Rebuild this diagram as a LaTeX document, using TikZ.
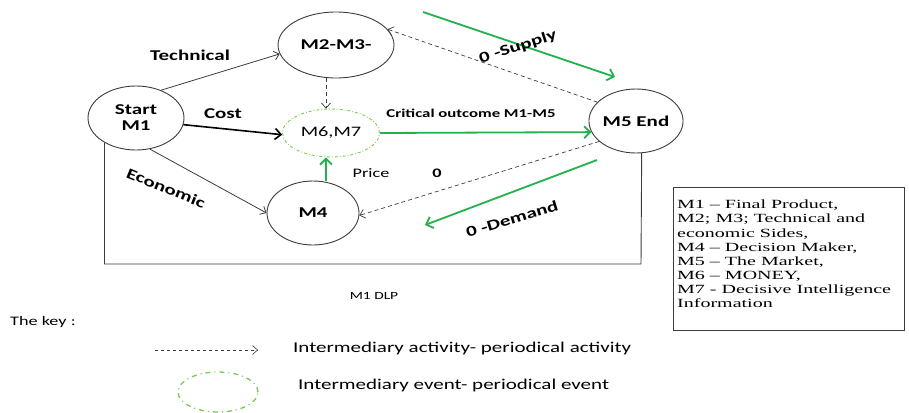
\documentclass[tikz,border=0pt]{standalone}
\usepackage{fontspec}
\setmainfont{Carlito}[FakeStretch=1.4]
\newfontfamily\keyserif{Liberation Serif}[FakeStretch=1.6,Ligatures=TeX]
\usetikzlibrary{arrows.meta,shapes.geometric}
\definecolor{flowgreen}{RGB}{34,177,76}
\definecolor{eventgreen}{RGB}{120,205,80}
\definecolor{linegray}{RGB}{60,60,60}

\begin{document}
\begin{tikzpicture}[x=1pt,y=-1pt,
  state/.style={draw=linegray, line width=0.9pt, ellipse, inner sep=0pt,
    font=\fontsize{15}{16}\selectfont\bfseries, align=center},
  eventnode/.style={draw=eventgreen, line width=0.9pt, ellipse, inner sep=0pt,
    dash pattern=on 3pt off 2pt on 0.8pt off 2pt},
  thinarrow/.style={draw=linegray, line width=0.8pt, -{Straight Barb[length=5pt,width=9pt]}},
  costarrow/.style={draw=black, line width=1.6pt, -{Straight Barb[length=6pt,width=11pt]}},
  greenarrow/.style={draw=flowgreen, line width=1.8pt, -{Straight Barb[length=6pt,width=12pt]}},
  dasharrow/.style={draw=linegray, line width=0.7pt, dash pattern=on 4pt off 3pt,
    -{Straight Barb[length=5pt,width=9pt]}},
  framebar/.style={draw=linegray, line width=0.9pt},
  lbl/.style={font=\fontsize{15}{16}\selectfont\bfseries, inner sep=1pt},
  plainlbl/.style={font=\fontsize{13}{15}\selectfont, inner sep=1pt},
  keylbl/.style={font=\fontsize{15}{17}\selectfont, inner sep=0pt, anchor=west}
]
\useasboundingbox (0,0) rectangle (909,412);

% states of the process
\node[state, minimum width=96, minimum height=64] (m1) at (136,118) {Start\\M1};
\node[state, minimum width=116, minimum height=66] (m2) at (336,45) {M2-M3-};
\node[eventnode, minimum width=97, minimum height=48,
  font=\fontsize{14.5}{16}\selectfont] (m6) at (331,133) {M6,M7};
\node[state, minimum width=92, minimum height=64] (m4) at (313,213) {M4};
\node[state, minimum width=94, minimum height=64] (m5) at (636,121) {M5 End};

% columns for the vertical links
\coordinate (vx) at (326,0);
\coordinate (base) at (641,264);

% activities leaving M1
\draw[thinarrow] (m1.48) -- (m2.189);
\draw[costarrow] (m1.-8) -- (m6.182);
\draw[thinarrow] (m1.-66) -- (m4.180);

% links into M6,M7
\draw[dasharrow] (m2.south -| vx) -- (m6.north -| vx);
\draw[greenarrow] (m4.north -| vx) -- (m6.south -| vx);
\draw[greenarrow] (m6.east) -- (m5.194);

% feedback from the market
\draw[dasharrow] (m5.154) -- (m2.17);
\draw[dasharrow] (m5.209) -- (m4.-3);

% supply and demand flows
\coordinate (sup1) at (423,12);
\coordinate (sup2) at (615,77);
\coordinate (dem1) at (597,160);
\coordinate (dem2) at (425,225);
\draw[greenarrow] (sup1) -- (sup2);
\draw[greenarrow] (dem1) -- (dem2);

% DLP frame under the process
\draw[framebar] (m1.218) |- (base) -- (m5.-80);

% labels
\node[lbl] (ltech) at (190,55) {Technical};
\node[lbl] (lcost) at (223,114) {Cost};
\node[lbl, rotate=-22] (lecon) at (166,188) {Economic};
\node[plainlbl] (lprice) at (371,173) {Price};
\node[lbl, font=\fontsize{13}{15}\selectfont\bfseries] (lzero) at (437,173) {0};
\node[lbl, font=\fontsize{12}{14}\selectfont\bfseries] (lcrit) at (471,113) {Critical outcome M1-M5};
\node[lbl, rotate=18] (lsup) at (518,47) {0 -Supply};
\node[lbl, rotate=17] (ldem) at (512,219) {0 -Demand};
\node[plainlbl, font=\fontsize{11}{12}\selectfont] (ldlp) at (374,296) {M1 DLP};
\node[plainlbl, anchor=west] (lkey) at (9,322) {The key :};

% meaning of the symbols
\node[draw=linegray, line width=0.9pt, minimum width=231, minimum height=143,
  anchor=north west, inner sep=0pt] (keybox) at (673,187) {};
\node[anchor=north west, align=left, inner sep=0pt,
  font=\keyserif\fontsize{12.5}{14.1}\selectfont] (keytext) at (677,200)
  {M1 -- Final Product,\\
   M2; M3; Technical and\\
   economic Sides,\\
   M4 -- Decision Maker,\\
   M5 -- The Market,\\
   M6 -- MONEY,\\
   M7 - Decisive Intelligence\\
   Information};

% key
\coordinate (ka) at (155,350);
\coordinate (kb) at (258,350);
\draw[dasharrow, line width=0.6pt, dash pattern=on 3pt off 3pt] (ka) -- (kb);
\node[keylbl] (kacttext) at (293,348) {Intermediary activity- periodical activity};
\node[eventnode, minimum width=80, minimum height=40, line width=1.3pt,
  dash pattern=on 5pt off 4pt on 1pt off 4pt] (kev) at (218,392) {};
\node[keylbl] (kevtext) at (298,385) {Intermediary event- periodical event};
\end{tikzpicture}
\end{document}
